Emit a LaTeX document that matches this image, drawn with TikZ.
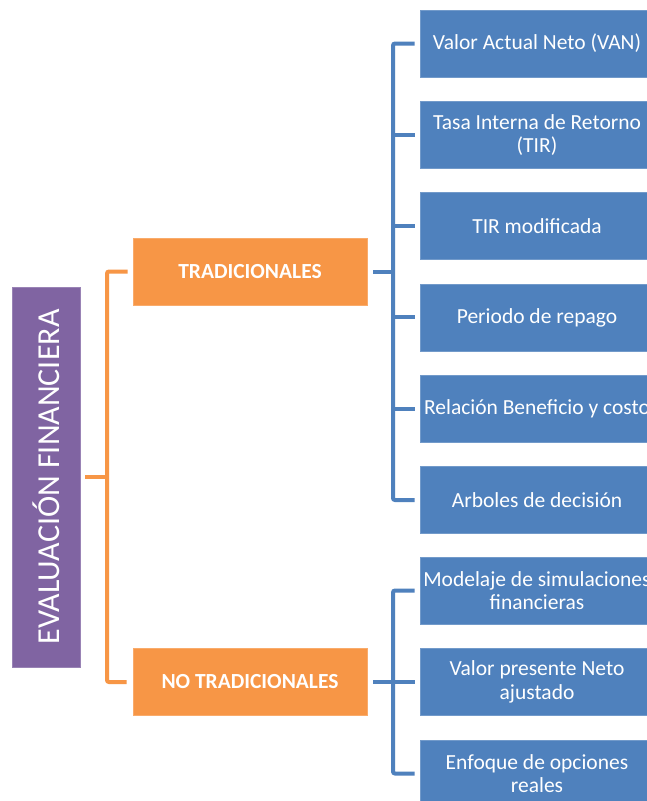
\documentclass[tikz,border=0pt]{standalone}
\usepackage{fontspec}
\setmainfont{Carlito}
\definecolor{boxblue}{HTML}{4F81BD}
\definecolor{boxorange}{HTML}{F79646}
\definecolor{boxpurple}{HTML}{8064A2}
\begin{document}
\begin{tikzpicture}[x=1pt,y=-1pt,
  bluebox/.style={fill=boxblue,draw=boxblue!80!white,line width=0.6pt,minimum width=234pt,minimum height=67pt,inner sep=0pt,text=white,align=center,font=\fontsize{21.5}{23.5}\selectfont},
  orangebox/.style={fill=boxorange,draw=boxorange!80!white,line width=0.6pt,minimum width=234pt,minimum height=67pt,inner sep=0pt,text=white,align=center,font=\fontsize{21.5}{24}\selectfont\bfseries},
  purplebox/.style={fill=boxpurple,draw=boxpurple!80!white,line width=0.6pt,minimum width=68pt,minimum height=380pt,inner sep=0pt},
  bconn/.style={draw=boxblue,line width=4pt,rounded corners=2pt},
  oconn/.style={draw=boxorange,line width=4pt,rounded corners=2pt}]
\clip (0,0) rectangle (647,801);
\fill[white] (0,0) rectangle (647,801);
% purple
\node[purplebox] (P) at (46,477) {};
\node[rotate=90,text=white,font=\fontsize{32}{36}\selectfont] (Pt) at (46,477) {EVALUACIÓN FINANCIERA};
% orange
\node[orangebox] (T) at (250,271.5) {TRADICIONALES};
\node[orangebox] (N) at (250,682) {NO TRADICIONALES};
% blue
\node[bluebox] (B1) at (537,43.5) {Valor Actual Neto (VAN)};
\node[bluebox] (B2) at (537,134.8) {Tasa Interna de Retorno\\(TIR)};
\node[bluebox] (B3) at (537,226.1) {TIR modificada};
\node[bluebox] (B4) at (537,317.4) {Periodo de repago};
\node[bluebox] (B5) at (537,408.7) {Relación Beneficio y costo};
\node[bluebox] (B6) at (537,500) {Arboles de decisión};
\node[bluebox] (C1) at (537,590.5) {Modelaje de simulaciones\\financieras};
\node[bluebox] (C2) at (537,682) {Valor presente Neto\\ajustado};
\node[bluebox] (C3) at (537,773.5) {Enfoque de opciones\\reales};
% buses
\coordinate (ob) at (107,0);
\coordinate (tb) at (393,0);
% orange connectors
\draw[oconn] ([xshift=-5]T.west) -- (ob |- T.west) -- (ob |- N.west) -- ([xshift=-6]N.west);
\draw[oconn] ([xshift=5]P.east) -- (ob |- P.east);
% blue connectors traditional
\draw[bconn] ([xshift=-5]B1.west) -- (tb |- B1.west) -- (tb |- B6.west) -- ([xshift=-5]B6.west);
\foreach \b in {B2,B3,B4,B5} \draw[bconn] ([xshift=-5]\b.west) -- (tb |- \b.west);
\draw[bconn] ([xshift=6]T.east) -- (tb |- T.east);
% blue connectors non-traditional
\draw[bconn] ([xshift=-5]C1.west) -- (tb |- C1.west) -- (tb |- C3.west) -- ([xshift=-5]C3.west);
\draw[bconn] ([xshift=-5]C2.west) -- (tb |- C2.west);
\draw[bconn] ([xshift=6]N.east) -- (tb |- N.east);
\end{tikzpicture}
\end{document}
